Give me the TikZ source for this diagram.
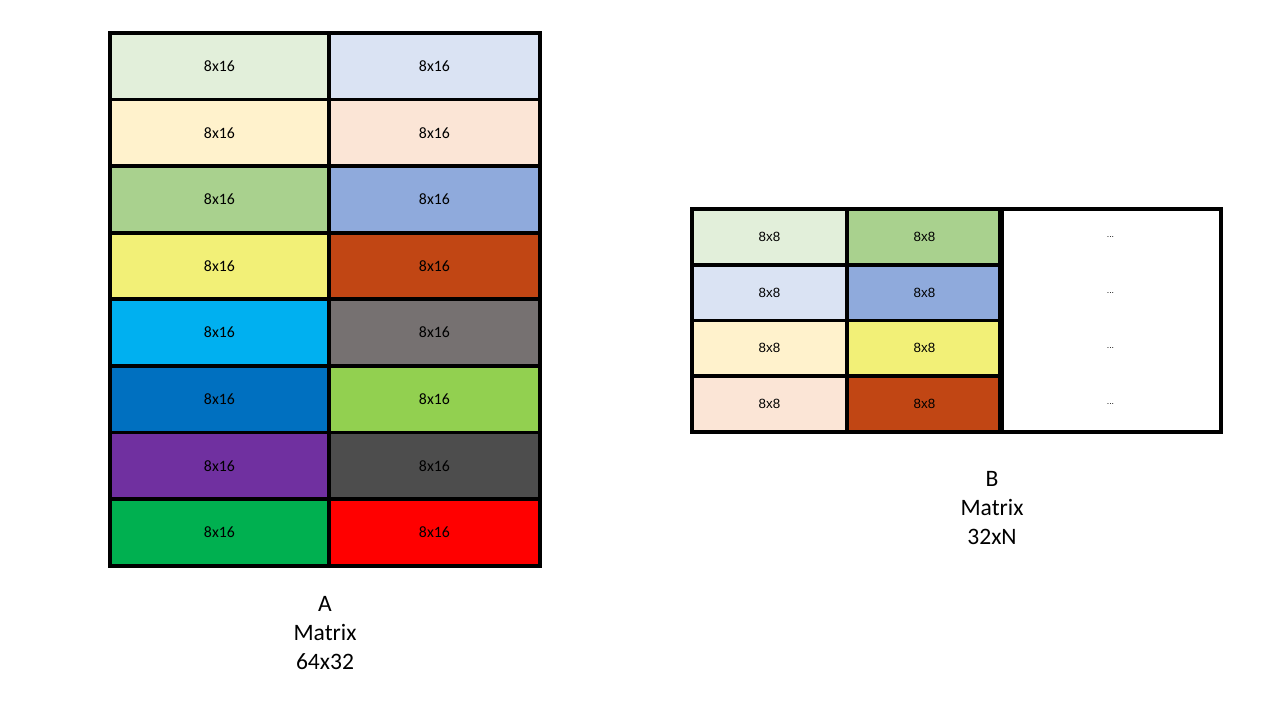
\documentclass[tikz,border=0pt]{standalone}
\usepackage{fontspec}
\setmainfont{Carlito}
\newfontfamily\arialfont{Liberation Sans}
\usetikzlibrary{matrix,positioning}
\definecolor{greenpale}{HTML}{E2EFDA}
\definecolor{bluepale}{HTML}{DAE3F3}
\definecolor{goldpale}{HTML}{FFF2CC}
\definecolor{peachpale}{HTML}{FBE5D6}
\definecolor{greenmid}{HTML}{A9D18E}
\definecolor{bluemid}{HTML}{8FAADC}
\definecolor{yellowmid}{HTML}{F2F077}
\definecolor{rust}{HTML}{C14614}
\definecolor{cyanish}{HTML}{00B0F0}
\definecolor{graymid}{HTML}{767171}
\definecolor{bluedeep}{HTML}{0070C0}
\definecolor{limeish}{HTML}{92D050}
\definecolor{purpleish}{HTML}{7030A0}
\definecolor{graydark}{HTML}{4D4D4D}
\definecolor{greendeep}{HTML}{00B050}
\definecolor{redfull}{HTML}{FF0000}

\begin{document}
\begin{tikzpicture}[
  cell/.style = {draw=black,line width=2.2pt,inner sep=0pt,outer sep=0pt,anchor=center},
  caption/.style = {align=center,font=\fontsize{13.4}{16.5}\selectfont}
  ]
  \useasboundingbox[fill=white] (0,0) rectangle (25.6,-14.4);
  % Matrix A
  \matrix[
  matrix of nodes,column sep=-2.2pt,row sep=-2.2pt,inner sep=0pt,outer sep=0pt,
  anchor=north west,
  nodes={cell,minimum height=1.332cm,font=\fontsize{9}{10}\selectfont},
  column 1/.style={nodes={minimum width=4.38cm}},
  column 2/.style={nodes={minimum width=4.22cm}}
  ] (A) at (2.16,-0.62) {
    |[fill=greenpale]|8x16  & |[fill=bluepale]|8x16  \\
    |[fill=goldpale]|8x16   & |[fill=peachpale]|8x16 \\
    |[fill=greenmid]|8x16   & |[fill=bluemid]|8x16   \\
    |[fill=yellowmid]|8x16  & |[fill=rust]|8x16      \\
    |[fill=cyanish]|8x16    & |[fill=graymid]|8x16   \\
    |[fill=bluedeep]|8x16   & |[fill=limeish]|8x16   \\
    |[fill=purpleish]|8x16  & |[fill=graydark]|8x16  \\
    |[fill=greendeep]|8x16  & |[fill=redfull]|8x16   \\
  };
  % Matrix B
  \matrix[
  matrix of nodes,column sep=-2.2pt,row sep=-2.2pt,inner sep=0pt,outer sep=0pt,
  anchor=north west,
  nodes={cell,minimum height=1.115cm,font=\arialfont\fontsize{7.6}{9}\selectfont},
  column 1/.style={nodes={minimum width=3.1cm}},
  column 2/.style={nodes={minimum width=3.1cm}},
  column 3/.style={nodes={minimum width=4.42cm,draw=none,font=\arialfont\fontsize{5}{6}\selectfont}}
  ] (B) at (13.8,-4.14) {
    |[fill=greenpale]|8x8 & |[fill=greenmid]|8x8  & ... \\
    |[fill=bluepale]|8x8  & |[fill=bluemid]|8x8   & ... \\
    |[fill=goldpale]|8x8  & |[fill=yellowmid]|8x8 & ... \\
    |[fill=peachpale]|8x8 & |[fill=rust]|8x8      & ... \\
  };
  \draw[line width=2.2pt] (B-1-3.north west) rectangle (B-4-3.south east);
  % Captions
  \node[caption] (capA) at (6.5,-12.66) {A\\Matrix\\64x32};
  \node[caption] (capB) at (19.84,-10.16) {B\\Matrix\\32xN};
\end{tikzpicture}
\end{document}
